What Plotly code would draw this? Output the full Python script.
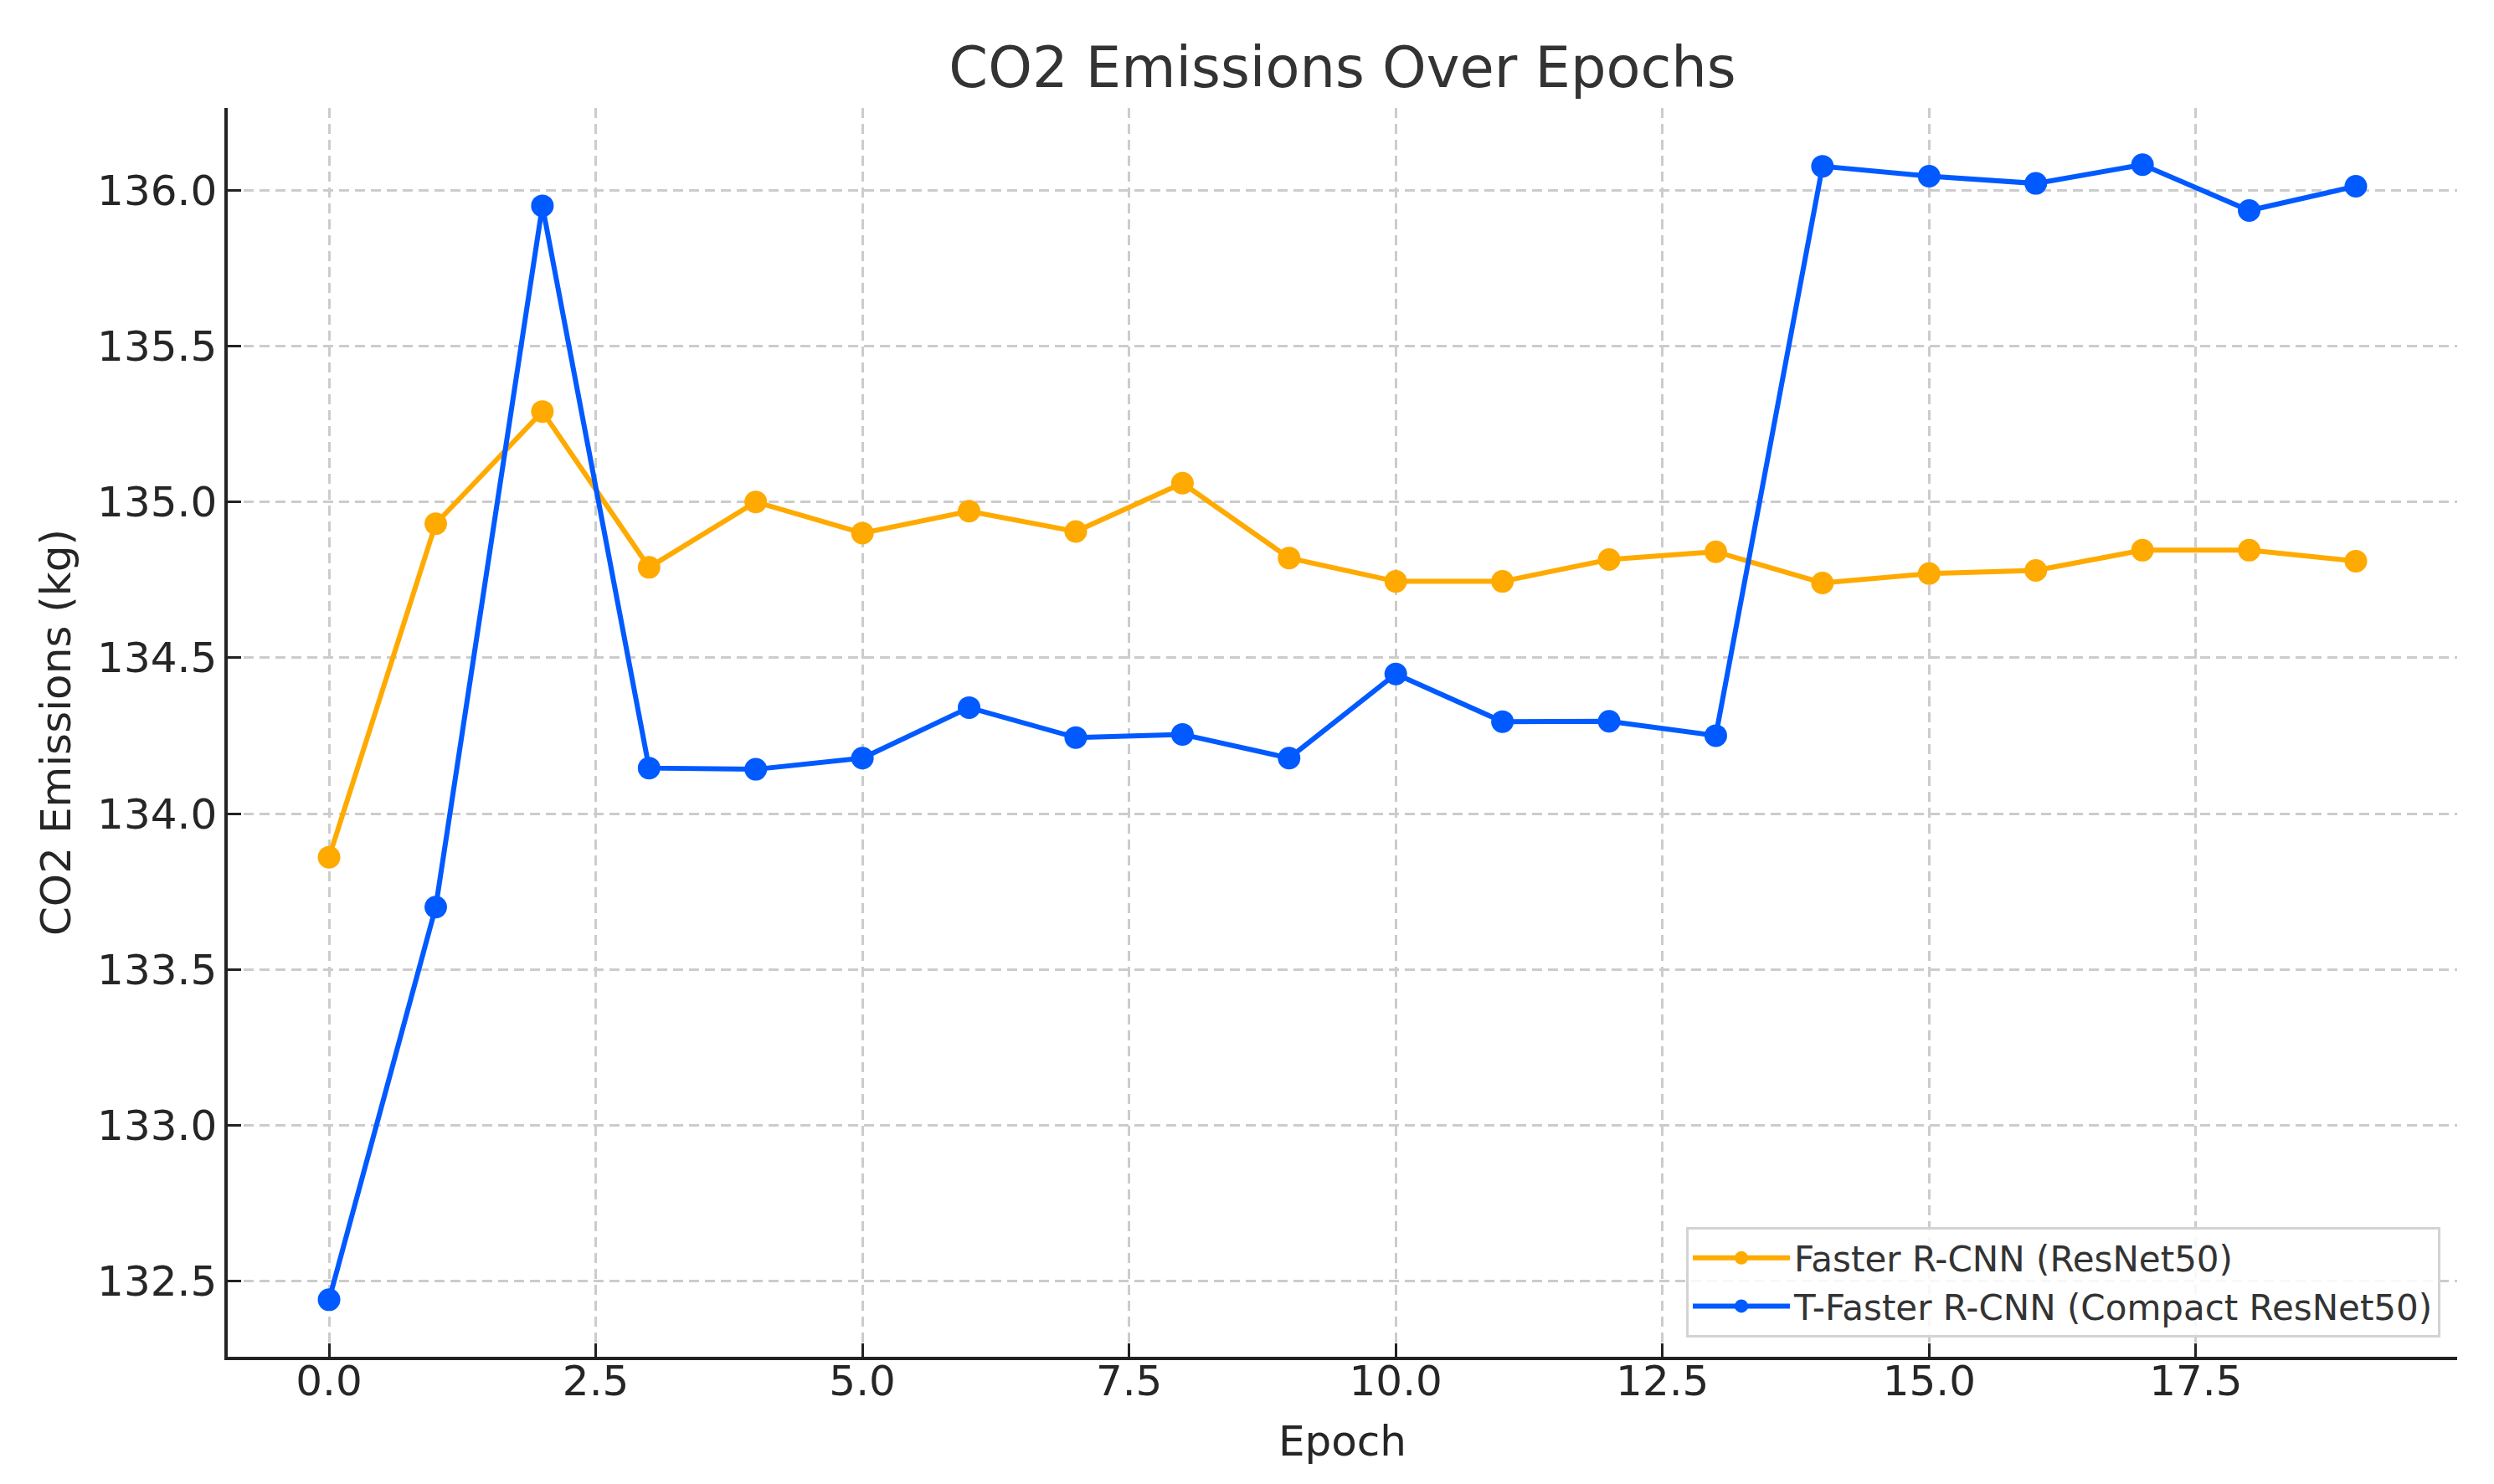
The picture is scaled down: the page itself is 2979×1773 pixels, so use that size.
import plotly.graph_objects as go

epochs = list(range(20))
faster_rcnn = [133.86, 134.93, 135.29, 134.79, 135.00, 134.90, 134.97, 134.905, 135.06, 134.82,
               134.745, 134.745, 134.815, 134.84, 134.74, 134.77, 134.78, 134.845, 134.845, 134.81]
t_faster_rcnn = [132.44, 133.70, 135.95, 134.146, 134.142, 134.178, 134.34, 134.244, 134.254, 134.178,
                 134.448, 134.295, 134.296, 134.25, 136.077, 136.045, 136.022, 136.082, 135.935, 136.013]

x_ticks = [0.0, 2.5, 5.0, 7.5, 10.0, 12.5, 15.0, 17.5]
y_ticks = [132.5, 133.0, 133.5, 134.0, 134.5, 135.0, 135.5, 136.0]

ORANGE = "#FFAA00"
BLUE = "#005AFF"
FONT = "DejaVu Sans"

fig = go.Figure()
fig.add_trace(go.Scatter(x=epochs, y=faster_rcnn, mode="lines+markers",
                         name="Faster R-CNN (ResNet50)",
                         line=dict(color=ORANGE, width=6),
                         marker=dict(color=ORANGE, size=27)))
fig.add_trace(go.Scatter(x=epochs, y=t_faster_rcnn, mode="lines+markers",
                         name="T-Faster R-CNN (Compact ResNet50)",
                         line=dict(color=BLUE, width=6),
                         marker=dict(color=BLUE, size=27)))

axis_common = dict(
    showgrid=True, gridcolor="#CCCCCC", gridwidth=2.5, griddash="12px,7px",
    showline=True, linecolor="#222222", linewidth=3.5, mirror=False,
    ticks="inside", ticklen=16, tickwidth=3, tickcolor="#222222",
    tickfont=dict(family=FONT, size=50, color="#262626"),
    zeroline=False, automargin=False,
)

fig.update_xaxes(range=[-0.95, 19.95], tickvals=x_ticks,
                 ticktext=[f"{v:.1f}" for v in x_ticks],
                 title=dict(text="Epoch", font=dict(family=FONT, size=50, color="#262626"), standoff=27),
                 ticklabelstandoff=-18, **axis_common)
fig.update_yaxes(range=[132.257, 136.264], tickvals=y_ticks,
                 ticktext=[f"{v:.1f}" for v in y_ticks],
                 title=dict(text="CO2 Emissions (kg)", font=dict(family=FONT, size=50, color="#262626"), standoff=17),
                 ticklabelstandoff=-1, **axis_common)

fig.update_layout(
    width=2979, height=1773,
    margin=dict(l=264, r=52, t=121, b=160),
    paper_bgcolor="white", plot_bgcolor="white",
    font=dict(family=FONT, color="#262626"),
    title=dict(text="CO2 Emissions Over Epochs", x=0.5, xref="paper",
               y=1 - 73 / 1773, yref="container", yanchor="middle", xanchor="center",
               font=dict(family=FONT, size=67, color="#333333"), automargin=False),
    legend=dict(x=0.9925, y=0.0154, xanchor="right", yanchor="bottom",
                bgcolor="rgba(255,255,255,0.85)", bordercolor="#D3D3D3", borderwidth=3,
                font=dict(family=FONT, size=42, color="#333333"),
                itemwidth=116),
    showlegend=True,
)

fig.write_html("out.html")
